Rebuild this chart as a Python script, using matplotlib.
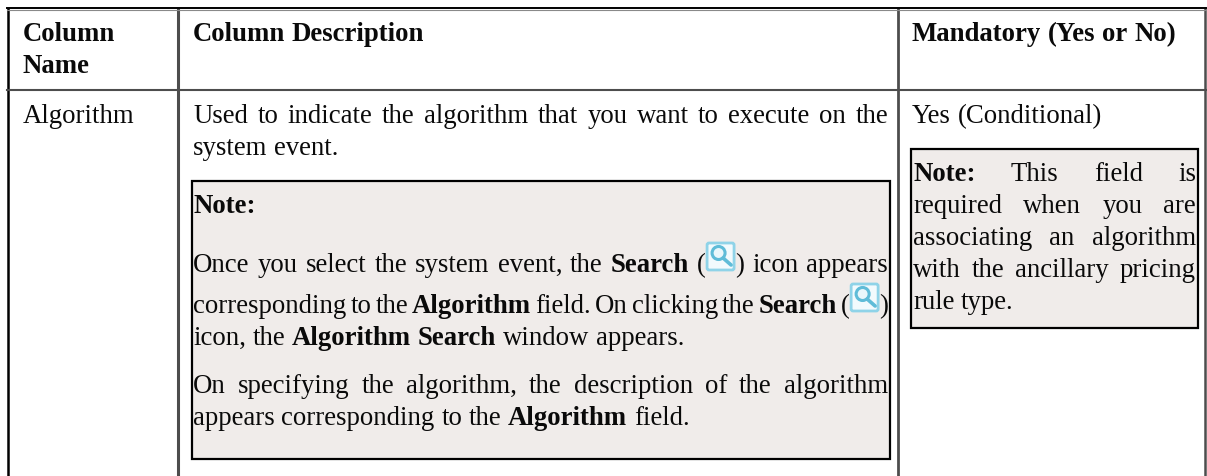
import matplotlib
matplotlib.use('Agg')
import matplotlib.pyplot as plt
from matplotlib.patches import Rectangle, FancyBboxPatch, Circle

### Table text. Each line is a list of runs (text, bold), ICON is the search icon
ICON = None
header_name = [[('Column', True)], [('Name', True)]]
header_desc = [[('Column Description', True)]]
header_mand = [[('Mandatory (Yes or No)', True)]]
row_name = [[('Algorithm', False)]]
row_desc = [[('Used to indicate the algorithm that you want to execute on the', False)],
             [('system event.', False)]]
note_title = [[('Note:', True)]]
note_para1 = [[('Once you select the system event, the ', False), ('Search', True), (' (', False), ICON, (') icon appears', False)],
              [('corresponding to the ', False), ('Algorithm', True), (' field. On clicking the ', False), ('Search', True), (' (', False), ICON, (')', False)],
              [('icon, the ', False), ('Algorithm Search', True), (' window appears.', False)]]
note_para2 = [[('On specifying the algorithm, the description of the algorithm', False)],
              [('appears corresponding to the ', False), ('Algorithm', True), (' field.', False)]]
row_mand = [[('Yes (Conditional)', False)]]
mand_note = [[('Note:', True), ('  This field is', False)],
             [('required when you are', False)],
             [('associating an algorithm', False)],
             [('with the ancillary pricing', False)],
             [('rule type.', False)]]

font_px = 26.75
font_pt = font_px*72/100.
note_fill = '#f0ecea'
dark_line = '#4d4d4d'
space_px = 0.25*font_px
icon_w = 29

plt.rcParams['font.family'] = 'Liberation Serif'
fig = plt.figure(figsize=(12.07, 4.77), dpi=100)
ax = fig.add_axes([0, 0, 1, 1])
ax.set_xlim(0, 1207)
ax.set_ylim(477, 0)
ax.axis('off')
renderer = fig.canvas.get_renderer()


def piece_width(txt, bold):
    t = ax.text(0, 0, txt, fontsize=font_pt, fontweight='bold' if bold else 'normal')
    w = t.get_window_extent(renderer).width
    t.remove()
    return w


def split_words(line):
    ### Words are lists of glued pieces, a new word starts at each space
    words = [[]]
    for run in line:
        if run is ICON:
            words[-1].append(ICON)
            continue
        parts = run[0].split(' ')
        for i, p in enumerate(parts):
            if i > 0 and words[-1]:
                words.append([])
            if p:
                words[-1].append((p, run[1]))
    return words


def draw_icon(x, base):
    top = base - 29
    ax.add_patch(FancyBboxPatch((x+2, top+2), icon_w-4, 25, boxstyle='round,pad=1,rounding_size=2',
                                fc='#f2fafd', ec='#8fd3e8', lw=2.0, zorder=3))
    ax.add_patch(Circle((x+12.5, top+11), 6.5, fc='#eaf7fb', ec='#5fbcd8', lw=2.2, zorder=4))
    ax.plot([x+17, x+25], [top+16, top+23], color='#5fbcd8', lw=2.6, solid_capstyle='round', zorder=4)


def draw_line(line, x0, base, right=None):
    words = split_words(line)
    widths = []
    for w in words:
        total = 0
        for p in w:
            total += icon_w if p is ICON else piece_width(p[0], p[1])
        widths.append(total)
    gap = space_px
    if right is not None and len(words) > 1:
        gap = (right - x0 - sum(widths))/float(len(words)-1)
    x = x0
    for i, w in enumerate(words):
        for p in w:
            if p is ICON:
                draw_icon(x, base)
                x += icon_w
            else:
                ax.text(x, base, p[0], fontsize=font_pt, color='#0a0a0a', ha='left', va='baseline',
                        fontweight='bold' if p[1] else 'normal', zorder=5)
                x += piece_width(p[0], p[1])
        x += gap


### Note boxes first, then the cell lines
for (x, y, w, h) in [(191.5, 182, 698.5, 278), (911, 150, 287, 179)]:
    ax.add_patch(Rectangle((x, y), w, h, fc=note_fill, ec='black', lw=1.6, zorder=1))

for xv, col, lw in [(7.5, 'black', 1.8), (178, dark_line, 2.2), (897.5, dark_line, 2.0), (1205, dark_line, 1.8)]:
    ax.plot([xv, xv], [9, 477], color=col, lw=lw, solid_capstyle='butt', zorder=2)
ax.plot([7, 1206], [10.5, 10.5], color='#8a8a8a', lw=0.8, zorder=2)
ax.plot([7, 1206], [9, 9], color='black', lw=1.4, zorder=2)
ax.plot([7, 1206], [91, 91], color=dark_line, lw=1.5, zorder=2)

draw_line(header_name[0], 22.5, 41)
draw_line(header_name[1], 22.5, 73)
draw_line(header_desc[0], 193, 41)
draw_line(header_mand[0], 912, 41)
draw_line(row_name[0], 22.5, 123)
draw_line(row_desc[0], 193, 123, right=888)
draw_line(row_desc[1], 193, 155)
draw_line(note_title[0], 193, 213)
draw_line(note_para1[0], 193, 272, right=888)
draw_line(note_para1[1], 193, 313, right=888)
draw_line(note_para1[2], 193, 345)
draw_line(note_para2[0], 193, 393, right=888)
draw_line(note_para2[1], 193, 425)
draw_line(row_mand[0], 912, 123)
for i, base in enumerate([181, 213, 245, 277]):
    draw_line(mand_note[i], 913, base, right=1196)
draw_line(mand_note[4], 913, 309)

fig.savefig('out.png', dpi=100)
